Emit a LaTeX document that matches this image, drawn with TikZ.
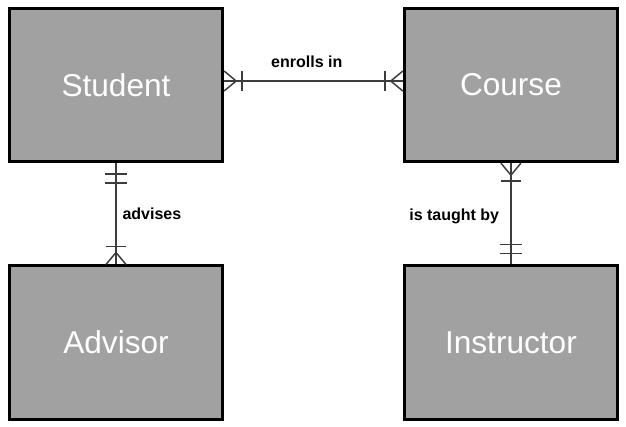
\documentclass[tikz,border=0pt]{standalone}
\usepackage{fontspec}
\setmainfont{Liberation Sans}
\usetikzlibrary{positioning}
\definecolor{boxgray}{RGB}{161,161,161}
\definecolor{linkgray}{RGB}{60,60,60}

\begin{document}
\begin{tikzpicture}[
  x=0.75pt,y=-0.75pt,
  node distance=76pt and 134pt,
  entity/.style={draw=black,line width=2.2pt,fill=boxgray,minimum width=160pt,minimum height=115pt,
    text=white,font=\fontsize{23.7}{28}\selectfont},
  rel/.style={draw=linkgray,line width=1.1pt},
  verb/.style={font=\bfseries\fontsize{12}{14}\selectfont},
  many/.pic={\draw[rel] (0,-10) -- (12,0) -- (0,10); \draw[rel] (18,-10) -- (18,10);},
  only/.pic={\draw[rel] (11,-11) -- (11,11); \draw[rel] (20,-11) -- (20,11);}
]
  \useasboundingbox (0,0) rectangle (626,426);

  \node[entity] (student) at (116,85) {Student};
  \node[entity,right=of student] (course) {Course};
  \node[entity,below=of student] (advisor) {Advisor};
  \node[entity,right=of advisor] (instructor) {Instructor};

  % enrolls in
  \draw[rel] ([yshift=3pt]student.east) -- node[verb,above=6pt,xshift=-5pt] {enrolls in} ([yshift=3pt]course.west);
  \pic at ([yshift=3pt]student.east) {many};
  \pic[rotate=180] at ([yshift=3pt]course.west) {many};

  % advises
  \draw[rel] (student) -- node[verb,right=1pt] {advises} (advisor);
  \pic[rotate=-90] at (student.south) {only};
  \pic[rotate=90] at (advisor.north) {many};

  % is taught by
  \draw[rel] (course) -- node[verb,left=5pt,yshift=-2pt] {is taught by} (instructor);
  \pic[rotate=-90] at (course.south) {many};
  \pic[rotate=90] at (instructor.north) {only};
\end{tikzpicture}
\end{document}
